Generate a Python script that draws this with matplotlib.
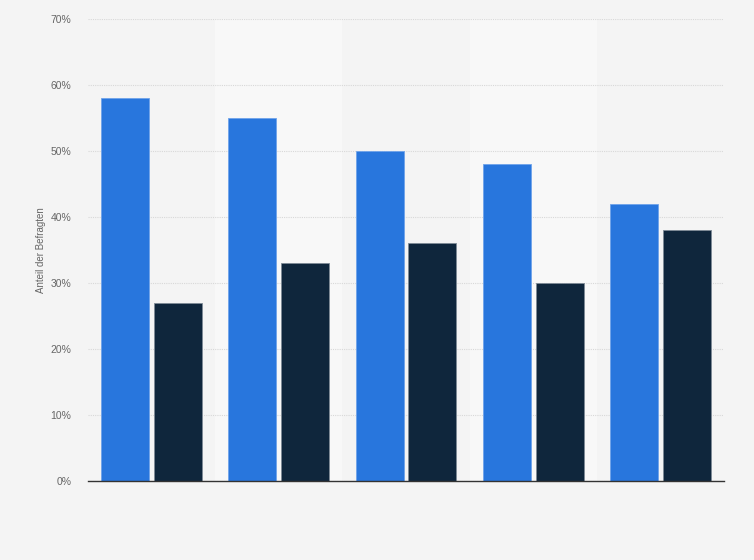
import matplotlib.pyplot as plt
import numpy as np
from matplotlib.ticker import FuncFormatter

# values (share of respondents, %)
groups = ['1', '2', '3', '4', '5']
series_a = [58, 55, 50, 48, 42]
series_b = [27, 33, 36, 30, 38]

plt.rcParams['font.family'] = ['Liberation Sans', 'DejaVu Sans']

fig = plt.figure(figsize=(7.54, 5.6), dpi=100)
fig.patch.set_facecolor('#f4f4f4')
ax = fig.add_axes([88 / 754, 1 - 481 / 560, 636 / 754, 462 / 560])
ax.set_facecolor('#f4f4f4')

index = np.arange(len(groups))
bar_width = 0.377
offset = 0.208

# alternating light column bands
for i in index:
    if i % 2 == 1:
        ax.axvspan(i - 0.5, i + 0.5, color='#f8f8f8', zorder=0, lw=0)

ax.bar(index - offset, series_a, bar_width, color='#2876dd',
       edgecolor='#6fa3ea', linewidth=0.6, zorder=3)
ax.bar(index + offset, series_b, bar_width, color='#0f263c',
       edgecolor='#7e8a96', linewidth=0.6, zorder=3)

ax.set_xlim(-0.5, len(groups) - 0.5)
ax.set_ylim(0, 70)
ax.set_yticks(np.arange(0, 71, 10))
ax.yaxis.set_major_formatter(FuncFormatter(lambda v, p: f'{v:.0f}%'))
ax.set_xticks([])

ax.grid(axis='y', color='#d8d8d8', linestyle=(0, (1, 1)), linewidth=0.8, zorder=1)
for s in ['top', 'right', 'left']:
    ax.spines[s].set_visible(False)
ax.spines['bottom'].set_color('#333333')
ax.spines['bottom'].set_linewidth(1.0)
ax.spines['bottom'].set_zorder(4)

ax.tick_params(axis='y', length=0, pad=12, labelsize=7.5, labelcolor='#666666')
ax.set_ylabel('Anteil der Befragten', fontsize=7, color='#666666', labelpad=3)

fig.savefig('out.png', dpi=100, facecolor=fig.get_facecolor())
